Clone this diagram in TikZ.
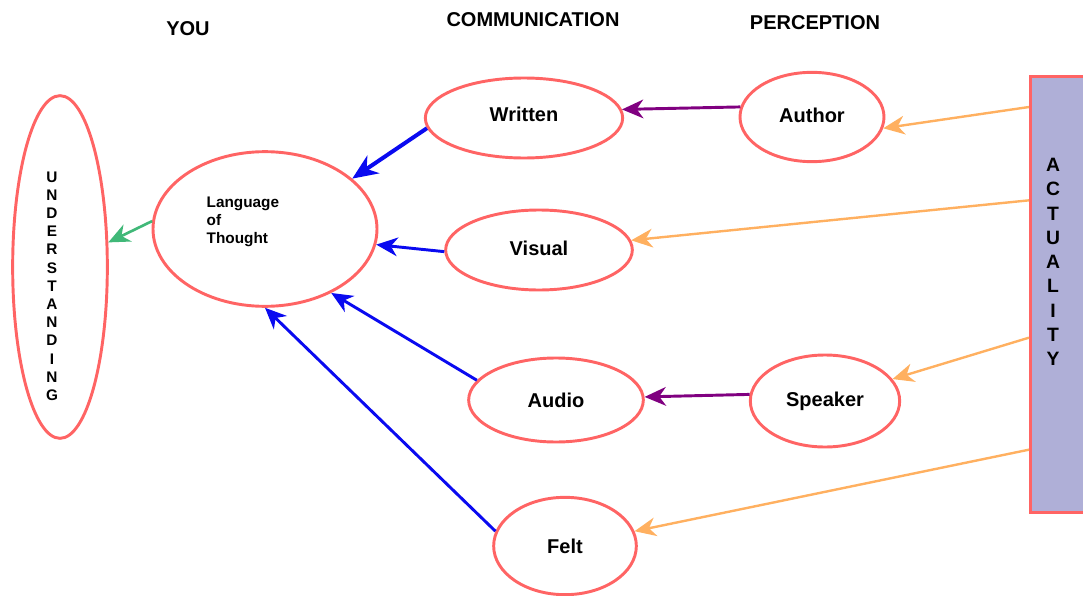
\documentclass[tikz,border=0pt]{standalone}
\usepackage{fontspec}
\setmainfont{Liberation Sans}
\usetikzlibrary{shapes.geometric,arrows.meta}
\definecolor{ered}{HTML}{FF6464}
\definecolor{actfill}{HTML}{AFAFD7}
\definecolor{ablue}{HTML}{0A0AF0}
\definecolor{aorange}{HTML}{FFB060}
\definecolor{apurple}{HTML}{800080}
\definecolor{agreen}{HTML}{40B878}
\tikzset{
  oval/.style={ellipse, draw=ered, line width=2.2pt, inner sep=0pt, font=\bfseries\fontsize{15}{18}\selectfont},
  header/.style={font=\bfseries\fontsize{15}{18}\selectfont},
  tip/.style={-{Stealth[length=16pt,width=14pt,inset=5pt]}},
  bluearrow/.style={tip, draw=ablue, line width=2.2pt},
  orangearrow/.style={tip, draw=aorange, line width=1.8pt},
  purplearrow/.style={tip, draw=apurple, line width=2.2pt},
  greenarrow/.style={tip, draw=agreen, line width=2pt},
}
\begin{document}
\begin{tikzpicture}[x=0.75pt,y=-0.75pt]
\useasboundingbox (0,0) rectangle (1083,596);
% headers
\node[header] (you) at (188,29) {YOU};
\node[header] (comm) at (533,20) {COMMUNICATION};
\node[header] (perc) at (815,23) {PERCEPTION};
% actuality
\node[draw=ered, fill=actfill, line width=2.2pt, rectangle, inner sep=0pt,
      minimum width=45.75pt, minimum height=327pt, anchor=north west] (act) at (1029,75) {};
\node[font=\bfseries\fontsize{14.5}{18.2}\selectfont, align=center] (acttext) at (1053,262)
  {A\\C\\T\\U\\A\\L\\I\\T\\Y};
% ellipses
\node[oval, minimum width=71pt, minimum height=257pt] (und) at (60,267) {};
\node[font=\bfseries\fontsize{11.5}{13.65}\selectfont, align=center] (undtext) at (52,286)
  {U\\N\\D\\E\\R\\S\\T\\A\\N\\D\\I\\N\\G};
\node[oval, minimum width=168pt, minimum height=116pt] (lot) at (265,229) {};
\node[font=\bfseries\fontsize{11.5}{13.5}\selectfont, align=left, anchor=north west] (lottext) at (202,192)
  {Language\\of\\Thought};
\node[oval, minimum width=148pt, minimum height=60pt] (written) at (524,118) {\raisebox{5pt}{Written}};
\node[oval, minimum width=140pt, minimum height=60pt] (visual) at (539,250) {\raisebox{3pt}{Visual}};
\node[oval, minimum width=131pt, minimum height=63pt] (audio) at (556,400) {Audio};
\node[oval, minimum width=107pt, minimum height=73pt] (felt) at (565,546) {Felt};
\node[oval, minimum width=108pt, minimum height=67pt] (author) at (812,117) {\raisebox{2pt}{Author}};
\node[oval, minimum width=112pt, minimum height=69pt] (speaker) at (825,401) {Speaker};
% connectors
\draw[bluearrow, line width=3pt, -{Stealth[length=19pt,width=16pt,inset=6pt]}] (written.186) -- (lot.30);
\draw[bluearrow] (visual.181) -- (lot.352);
\draw[bluearrow] (audio.166) -- (lot.316);
\draw[bluearrow] (felt.168) -- (lot.270);
\draw[greenarrow] (lot.176) -- (und.27);
\draw[purplearrow] (author.172) -- (written.5);
\draw[purplearrow] (speaker.175) -- (audio.2);
\draw[orangearrow] ([yshift=-24pt]act.north west) -- (author.351);
\draw[orangearrow] ([yshift=-94pt]act.north west) -- (visual.6);
\draw[orangearrow] ([yshift=-197pt]act.north west) -- (speaker.18);
\draw[orangearrow] ([yshift=-281pt]act.north west) -- (felt.12);
\end{tikzpicture}
\end{document}
